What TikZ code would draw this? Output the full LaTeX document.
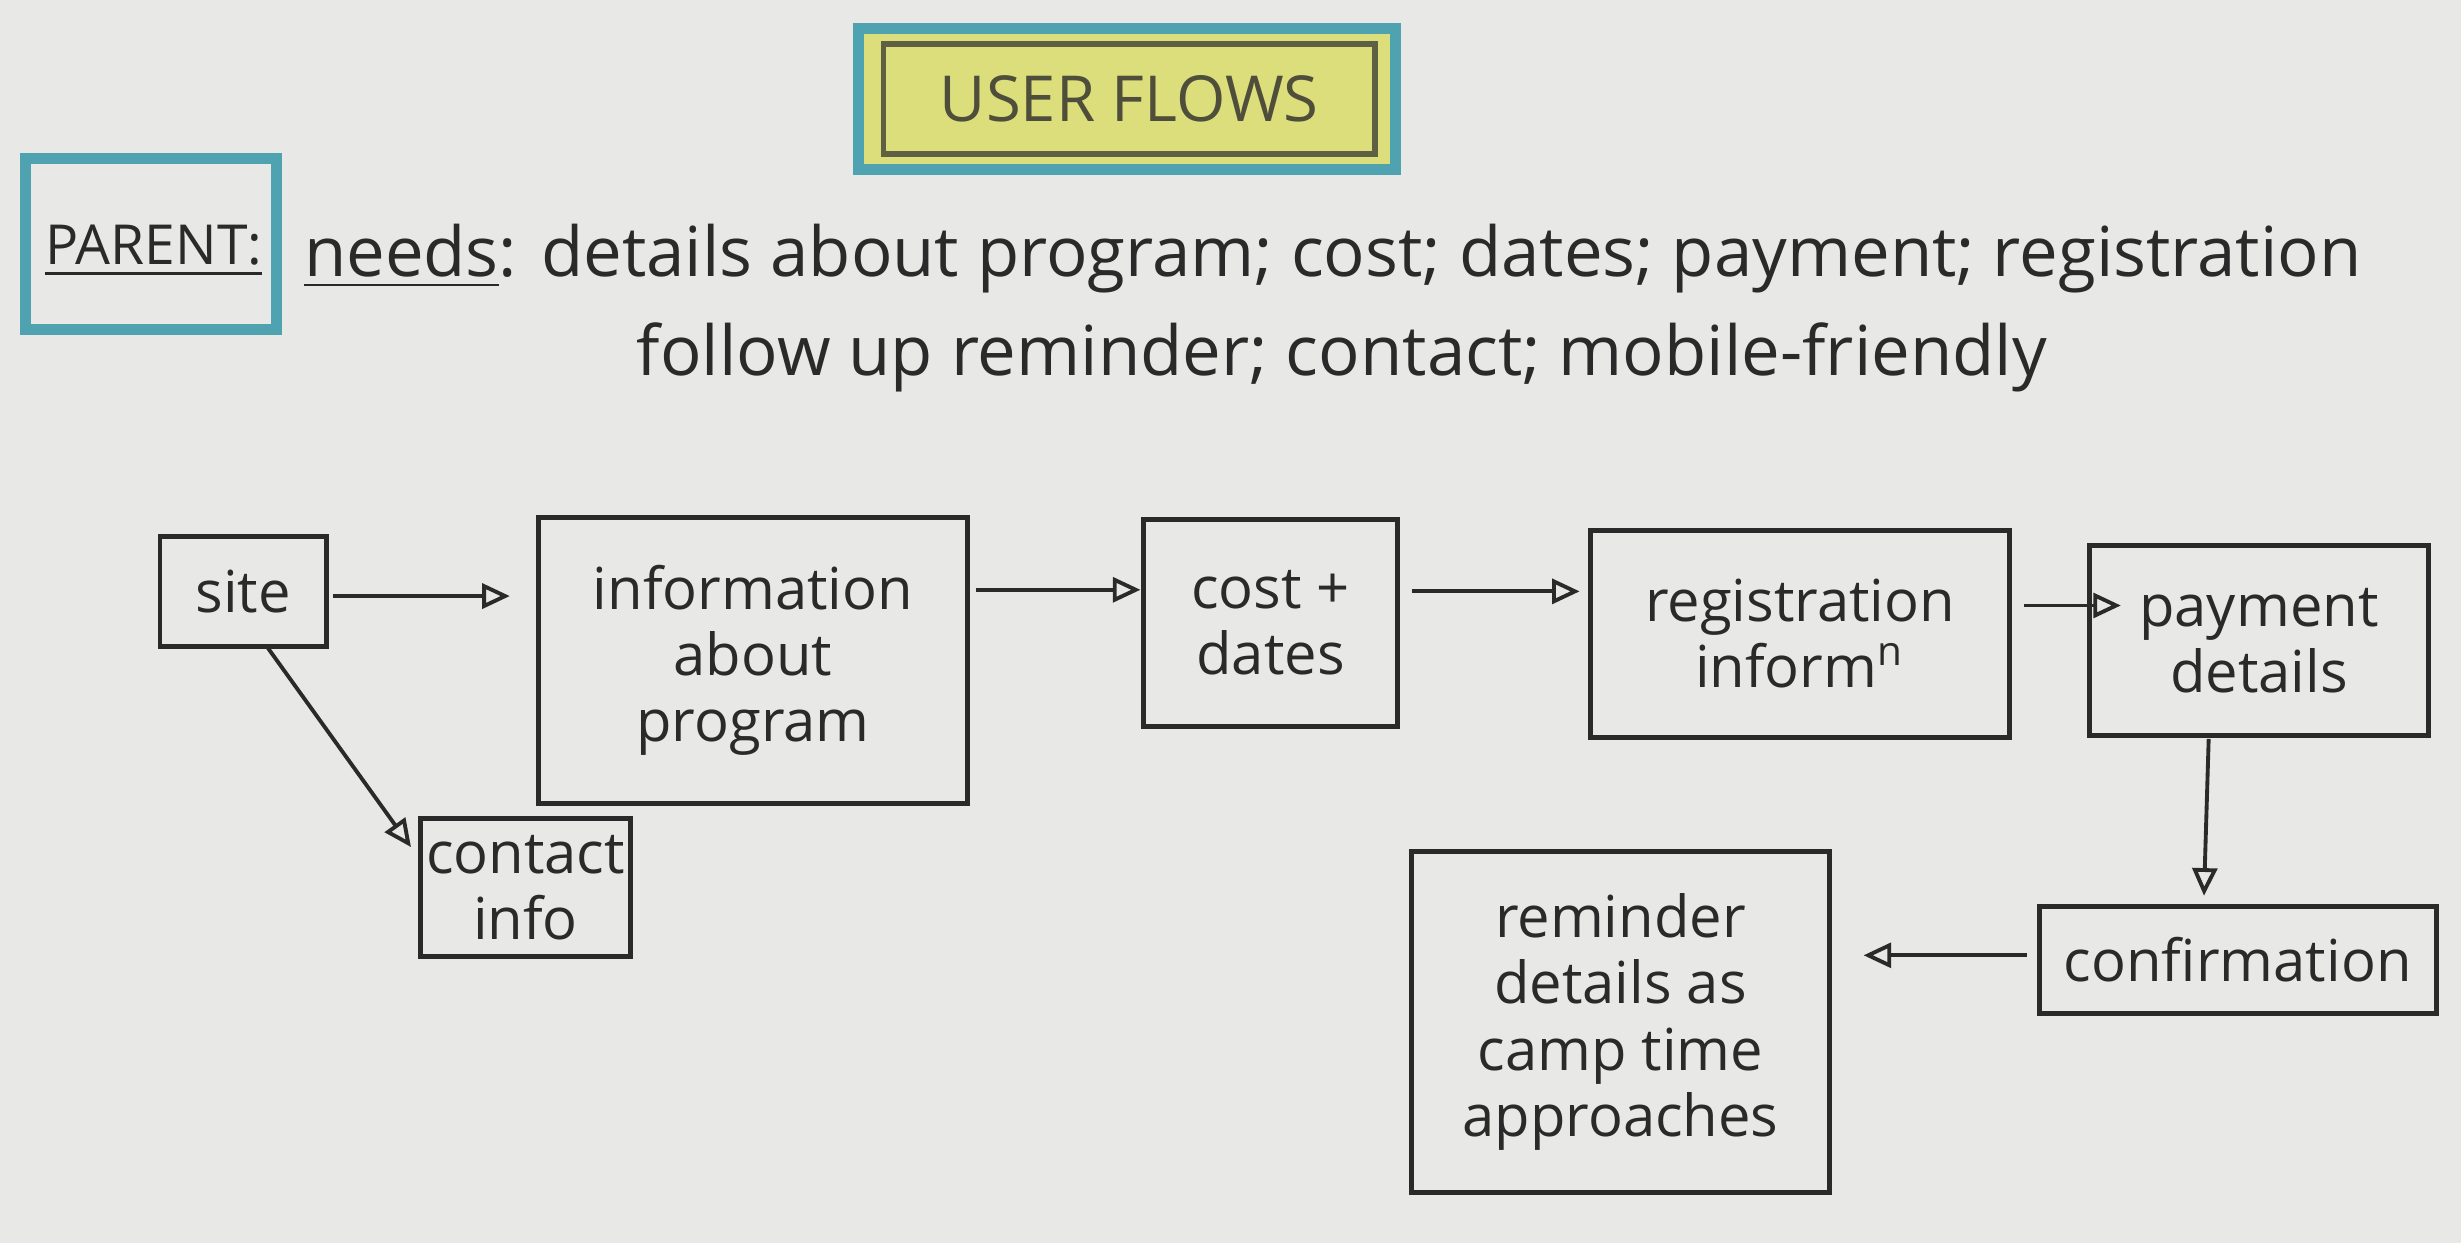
\documentclass[tikz,border=0pt]{standalone}
\usepackage{fontspec}
\setmainfont{Open Sans}
\usetikzlibrary{arrows.meta}
\definecolor{paper}{HTML}{E8E8E6}
\definecolor{teal}{HTML}{4FA3B0}
\definecolor{yel}{HTML}{DCDE7C}
\definecolor{ink}{HTML}{2A2A2A}
\tikzset{
  bx/.style={draw=ink,line width=0.9pt,align=center,inner sep=0pt,text=ink,font=\fontsize{10.5}{12}\selectfont},
  arr/.style={draw=ink,line width=0.7pt,-{Triangle[open,length=5pt,width=4.5pt]}},
  txt/.style={text=ink,font=\fontsize{12.5}{14}\selectfont,inner sep=0pt}
}
\newcommand{\bxat}[6]{\node[bx,minimum width={(#4-#2)*0.01cm},minimum height={(#5-#3)*0.01cm}] (#1) at ({(#2+#4)/2*0.01},{-(#3+#5)/2*0.01}) {#6};}
\newcommand{\pt}[3]{\coordinate (#1) at ({#2*0.01},{-#3*0.01});}
\begin{document}
\begin{tikzpicture}
\fill[paper] (0,0) rectangle (15.68,-7.92);
\useasboundingbox (0,0) rectangle (15.68,-7.92);
% title
\node[draw=teal,line width=2pt,fill=yel,minimum width=3.42cm,minimum height=0.9cm,inner sep=0pt] (titleo) at (7.18,-0.63) {};
\node[draw=ink!70!yel,line width=1pt,minimum width=3.13cm,minimum height=0.7cm,inner sep=0pt,text=ink!80!yel,font=\fontsize{11.5}{13}\selectfont] (title) at (7.195,-0.63) {USER FLOWS};
% parent
\node[draw=teal,line width=2pt,minimum width=1.6cm,minimum height=1.09cm,inner sep=0pt] (parbox) at (0.96,-1.555) {};
\node[txt,font=\fontsize{10}{12}\selectfont] (par) at (0.98,-1.6) {\underline{PARENT:}};
\node[txt,anchor=west] (needs) at (1.93,-1.65) {\underline{needs}: details about program; cost; dates; payment; registration};
\node[txt] (needs2) at (8.55,-2.28) {follow up reminder; contact; mobile-friendly};
% boxes
\bxat{site}{102}{342}{208}{412}{site}
\bxat{info}{343}{330}{617}{512}{information\\about\\program}
\bxat{cost}{729}{331}{891}{463}{cost +\\dates}
\bxat{reg}{1014}{338}{1281}{470}{registration\\inform$^{\mathrm{n}}$}
\bxat{pay}{1332}{348}{1548}{469}{payment\\details}
\bxat{contact}{268}{522}{402}{610}{contact\\info}
\bxat{conf}{1300}{578}{1553}{646}{confirmation}
\bxat{rem}{900}{543}{1166}{760}{reminder\\details as\\camp time\\approaches}
% connector ends
\pt{a1}{212}{380}\pt{a2}{325}{380}
\pt{b1}{622}{376}\pt{b2}{727}{376}
\pt{c1}{900}{377}\pt{c2}{1007}{377}
\pt{d1}{1290}{386}\pt{d2}{1352}{386}
\pt{e1}{170}{412}\pt{e2}{262}{540}
\pt{f1}{1408}{471}\pt{f2}{1405}{571}
\pt{g1}{1292}{609}\pt{g2}{1188}{609}
\draw[arr] (a1) -- (a2);
\draw[arr] (b1) -- (b2);
\draw[arr] (c1) -- (c2);
\draw[arr] (d1) -- (d2);
\draw[arr] (e1) -- (e2);
\draw[arr] (f1) -- (f2);
\draw[arr] (g1) -- (g2);
\end{tikzpicture}
\end{document}
